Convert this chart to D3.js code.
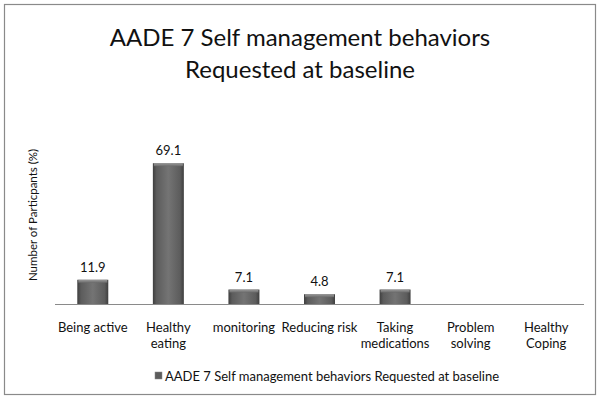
<!DOCTYPE html>
<html lang="en">
<head>
<meta charset="utf-8">
<script src="https://d3js.org/d3.v7.min.js"></script>
<style>
  body { margin: 0; background: #fff; }
  text { font-family: Lato, "Open Sans", sans-serif; fill: #111; }
</style>
</head>
<body>
<script>
var categories = [["Being active"], ["Healthy", "eating"], ["monitoring"], ["Reducing risk"],
  ["Taking", "medications"], ["Problem", "solving"], ["Healthy", "Coping"]];
var values = [11.9, 69.1, 7.1, 4.8, 7.1, null, null];
var titleLines = ["AADE 7 Self management behaviors", "Requested at baseline"];
var yTitle = "Number of Particpants (%)";
var legendLabel = "AADE 7 Self management behaviors Requested at baseline";

var width = 602, height = 401;
var plotLeft = 55, plotRight = 584, plotBottom = 304, plotTop = 141;

var svg = d3.select("body").append("svg")
  .attr("width", width).attr("height", height);

var defs = svg.append("defs");
var grad = defs.append("linearGradient").attr("id", "barGrad")
  .attr("x1", "0").attr("x2", "1").attr("y1", "0").attr("y2", "0");
grad.append("stop").attr("offset", "0%").attr("stop-color", "#3e3e3e");
grad.append("stop").attr("offset", "12%").attr("stop-color", "#5c5c5c");
grad.append("stop").attr("offset", "50%").attr("stop-color", "#747474");
grad.append("stop").attr("offset", "88%").attr("stop-color", "#5c5c5c");
grad.append("stop").attr("offset", "100%").attr("stop-color", "#3e3e3e");
var capGrad = defs.append("linearGradient").attr("id", "capGrad")
  .attr("x1", "0").attr("x2", "0").attr("y1", "0").attr("y2", "1");
capGrad.append("stop").attr("offset", "0%").attr("stop-color", "#9a9a9a");
capGrad.append("stop").attr("offset", "100%").attr("stop-color", "#6a6a6a");

// outer border
svg.append("rect").attr("x", 4.5).attr("y", 4.5).attr("width", 591).attr("height", 390)
  .attr("fill", "none").attr("stroke", "#8a8a8a").attr("stroke-width", 1.2);

// title
svg.append("g").selectAll("text").data(titleLines).enter().append("text")
  .attr("x", 300).attr("y", function(d, i) { return 46 + i * 32; })
  .attr("text-anchor", "middle").style("font-size", "24px")
  .text(function(d) { return d; });

var x = d3.scaleBand().domain(d3.range(categories.length)).range([plotLeft, plotRight])
  .paddingInner(0.59).paddingOuter(0.295);
var y = d3.scaleLinear().domain([0, 80]).range([plotBottom, plotTop]);

// axis line
svg.append("line").attr("x1", plotLeft).attr("x2", plotRight)
  .attr("y1", plotBottom + 0.5).attr("y2", plotBottom + 0.5)
  .attr("stroke", "#8a8a8a").attr("stroke-width", 1);

var bars = svg.append("g").selectAll("g").data(values.map(function(v, i) { return {v: v, i: i}; })
  .filter(function(d) { return d.v != null; })).enter().append("g");

bars.append("rect")
  .attr("x", function(d) { return x(d.i); })
  .attr("y", function(d) { return y(d.v); })
  .attr("width", x.bandwidth())
  .attr("height", function(d) { return plotBottom - y(d.v); })
  .attr("fill", "url(#barGrad)");
bars.append("rect")
  .attr("x", function(d) { return x(d.i) + 1; })
  .attr("y", function(d) { return y(d.v); })
  .attr("width", x.bandwidth() - 2)
  .attr("height", 3)
  .attr("fill", "url(#capGrad)");

bars.append("text")
  .attr("x", function(d) { return x(d.i) + x.bandwidth() / 2; })
  .attr("y", function(d) { return y(d.v) - 8; })
  .attr("text-anchor", "middle").style("font-size", "13px")
  .text(function(d) { return d.v.toFixed(1); });

// category labels
var labels = svg.append("g").selectAll("text").data(categories).enter().append("text")
  .attr("text-anchor", "middle").style("font-size", "13px")
  .attr("x", function(d, i) { return x(i) + x.bandwidth() / 2; })
  .attr("y", 332);
labels.selectAll("tspan").data(function(d) { return d; }).enter().append("tspan")
  .attr("x", function() { return d3.select(this.parentNode).attr("x"); })
  .attr("dy", function(d, i) { return i ? 16 : 0; })
  .text(function(d) { return d; });

// y title
svg.append("text").attr("transform", "translate(37,215) rotate(-90)")
  .attr("text-anchor", "middle").style("font-size", "11.5px").text(yTitle);

// legend
svg.append("rect").attr("x", 155).attr("y", 372).attr("width", 7).attr("height", 7)
  .attr("fill", "#5c5c5c").attr("stroke", "#888").attr("stroke-width", 0.5);
svg.append("text").attr("x", 165).attr("y", 381).style("font-size", "13px").text(legendLabel);
</script>
</body>
</html>
